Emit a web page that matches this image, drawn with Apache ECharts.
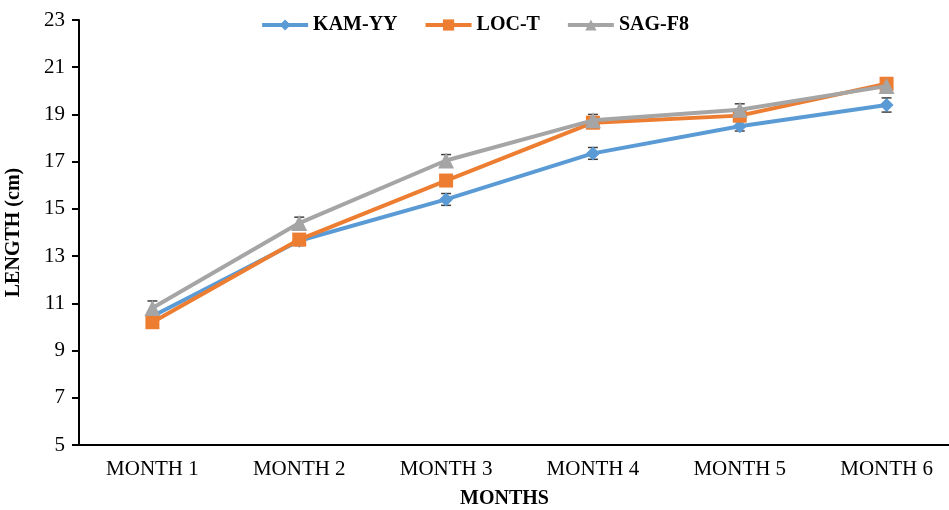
<!DOCTYPE html>
<html>
<head>
<meta charset="utf-8">
<script src="https://cdn.jsdelivr.net/npm/echarts@6/dist/echarts.min.js"></script>
<style>html,body{margin:0;padding:0;background:#fff;}#c{width:949px;height:510px;}</style>
</head>
<body>
<div id="c"></div>
<script>
var months = ['MONTH 1','MONTH 2','MONTH 3','MONTH 4','MONTH 5','MONTH 6'];
var seriesNames = ['KAM-YY','LOC-T','SAG-F8'];
var kam = [10.45, 13.65, 15.4, 17.35, 18.5, 19.4];
var loc = [10.2, 13.7, 16.2, 18.65, 18.95, 20.3];
var sag = [10.8, 14.4, 17.05, 18.75, 19.2, 20.2];
var kamErr = [0.2, 0.2, 0.25, 0.25, 0.2, 0.3];
var locErr = [0.2, 0.2, 0.2, 0.2, 0.2, 0.2];
var sagErr = [0.3, 0.25, 0.25, 0.25, 0.25, 0.2];
var yTicks = {min: 5, max: 23, interval: 2};

var colors = ['#5B9BD5', '#ED7D31', '#A5A5A5'];
var symbols = ['diamond', 'rect', 'triangle'];
var serif = '"Liberation Serif","DejaVu Serif",serif';

function errSeries(vals, errs, z) {
  var data = vals.map(function (v, i) { return [i, v - errs[i], v + errs[i]]; });
  return {
    type: 'custom',
    silent: true,
    z: z,
    data: data,
    renderItem: function (params, api) {
      var x = api.coord([api.value(0), api.value(1)])[0];
      var y1 = api.coord([api.value(0), api.value(1)])[1];
      var y2 = api.coord([api.value(0), api.value(2)])[1];
      var w = 5;
      var st = {stroke: '#404040', lineWidth: 1.5};
      return {
        type: 'group',
        children: [
          {type: 'line', shape: {x1: x, y1: y1, x2: x, y2: y2}, style: st},
          {type: 'line', shape: {x1: x - w, y1: y1, x2: x + w, y2: y1}, style: st},
          {type: 'line', shape: {x1: x - w, y1: y2, x2: x + w, y2: y2}, style: st}
        ]
      };
    },
    encode: {x: 0, y: [1, 2]}
  };
}

function lineSeries(name, vals, idx) {
  return {
    name: name,
    type: 'line',
    data: vals,
    z: 3 + idx,
    symbol: symbols[idx],
    symbolSize: idx === 2 ? 16 : 14,
    lineStyle: {color: colors[idx], width: 4},
    itemStyle: {color: colors[idx]},
    emphasis: {disabled: true}
  };
}

var chart = echarts.init(document.getElementById('c'), null, {renderer: 'canvas'});
chart.setOption({
  animation: false,
  color: colors,
  legend: {
    top: 10,
    left: 'center',
    itemWidth: 46,
    itemHeight: 14,
    itemGap: 26,
    lineStyle: {width: 4},
    textStyle: {fontFamily: serif, fontWeight: 'bold', fontSize: 20, color: '#000'},
    data: seriesNames
  },
  grid: {left: 79, right: -11, top: 20, bottom: 65, containLabel: false, outerBoundsMode: 'none'},
  xAxis: {
    type: 'category',
    data: months,
    boundaryGap: true,
    name: 'MONTHS',
    nameLocation: 'middle',
    nameGap: 44,
    nameTextStyle: {fontFamily: serif, fontWeight: 'bold', fontSize: 20, color: '#000', padding: [0, 30, 0, 0]},
    axisLine: {lineStyle: {color: '#000', width: 2}},
    axisTick: {alignWithLabel: true, length: 5, lineStyle: {color: '#000', width: 2}},
    axisLabel: {fontFamily: serif, fontSize: 21, color: '#000', margin: 14},
    splitLine: {show: false}
  },
  yAxis: {
    type: 'value',
    min: yTicks.min,
    max: yTicks.max,
    interval: yTicks.interval,
    name: 'LENGTH (cm)',
    nameLocation: 'middle',
    nameGap: 55,
    nameTextStyle: {fontFamily: serif, fontWeight: 'bold', fontSize: 20, color: '#000'},
    axisLine: {show: true, lineStyle: {color: '#000', width: 2}},
    axisTick: {show: true, length: 7, lineStyle: {color: '#000', width: 2}},
    axisLabel: {fontFamily: serif, fontSize: 21, color: '#000', margin: 14},
    splitLine: {show: false}
  },
  series: [
    errSeries(kam, kamErr, 2),
    errSeries(loc, locErr, 2),
    errSeries(sag, sagErr, 2),
    lineSeries(seriesNames[0], kam, 0),
    lineSeries(seriesNames[1], loc, 1),
    lineSeries(seriesNames[2], sag, 2)
  ]
});
</script>
</body>
</html>
